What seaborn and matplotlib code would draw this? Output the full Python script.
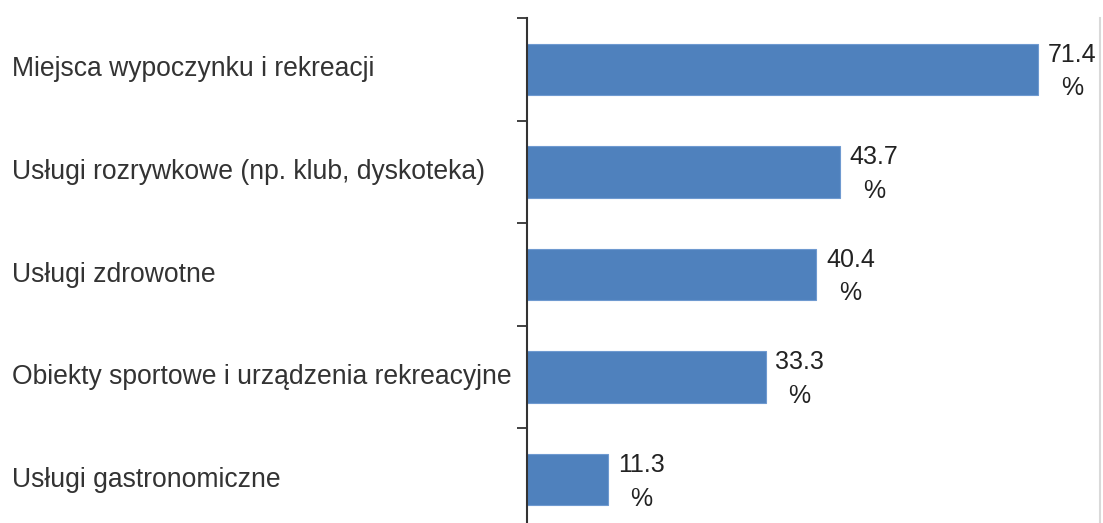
import numpy as np
import pandas as pd
import seaborn as sns
import matplotlib.pyplot as plt
from matplotlib.transforms import blended_transform_factory

categories = [
    "Miejsca wypoczynku i rekreacji",
    "Usługi rozrywkowe (np. klub, dyskoteka)",
    "Usługi zdrowotne",
    "Obiekty sportowe i urządzenia rekreacyjne",
    "Usługi gastronomiczne",
]
values = [71.4, 43.7, 40.4, 33.3, 11.3]

df = pd.DataFrame({"category": categories, "value": values})

sns.set_theme(style="white")
plt.rcParams['font.family'] = ['Liberation Sans', 'DejaVu Sans']

W, H = 1103, 523
fig = plt.figure(figsize=(W / 100, H / 100), dpi=100)
# axes box in pixels: x 527..1100, y 18..531 (bottom runs past the canvas)
ax = fig.add_axes([527 / W, (H - 531) / H, 573 / W, 513 / H])

sns.barplot(data=df, x="value", y="category", orient="h", color="#4F81BD",
            width=0.5, saturation=1, edgecolor="#6F9AD0", linewidth=0.8, ax=ax)

ax.set_xlim(0, 80)
ax.set_ylim(len(categories) - 0.5, -0.5)
ax.set_xticks([])
ax.set_yticks(np.arange(len(categories) + 1) - 0.5)
ax.set_yticklabels([])
ax.tick_params(axis="y", length=7, width=1.3, color="#333333", left=True)
ax.set_xlabel("")
ax.set_ylabel("")

for side in ["top", "bottom"]:
    ax.spines[side].set_visible(False)
ax.spines["left"].set_color("#333333")
ax.spines["left"].set_linewidth(1.5)
ax.spines["right"].set_color("#d9d9d9")
ax.spines["right"].set_linewidth(1.5)

# category labels, left aligned at the figure edge
tr = blended_transform_factory(fig.transFigure, ax.transData)
for i, cat in enumerate(categories):
    ax.text(12 / W, i, cat, transform=tr, ha="left", va="center",
            fontsize=19.1, color="#333333")

# value labels to the right of each bar
for i, v in enumerate(values):
    ax.annotate(f"{v}\n%", (v, i), xytext=(7, -1.5), textcoords="offset points",
                ha="left", va="center", multialignment="center",
                fontsize=18, color="#222222", linespacing=1.5,
                annotation_clip=False)

fig.savefig("out.png", dpi=100)
